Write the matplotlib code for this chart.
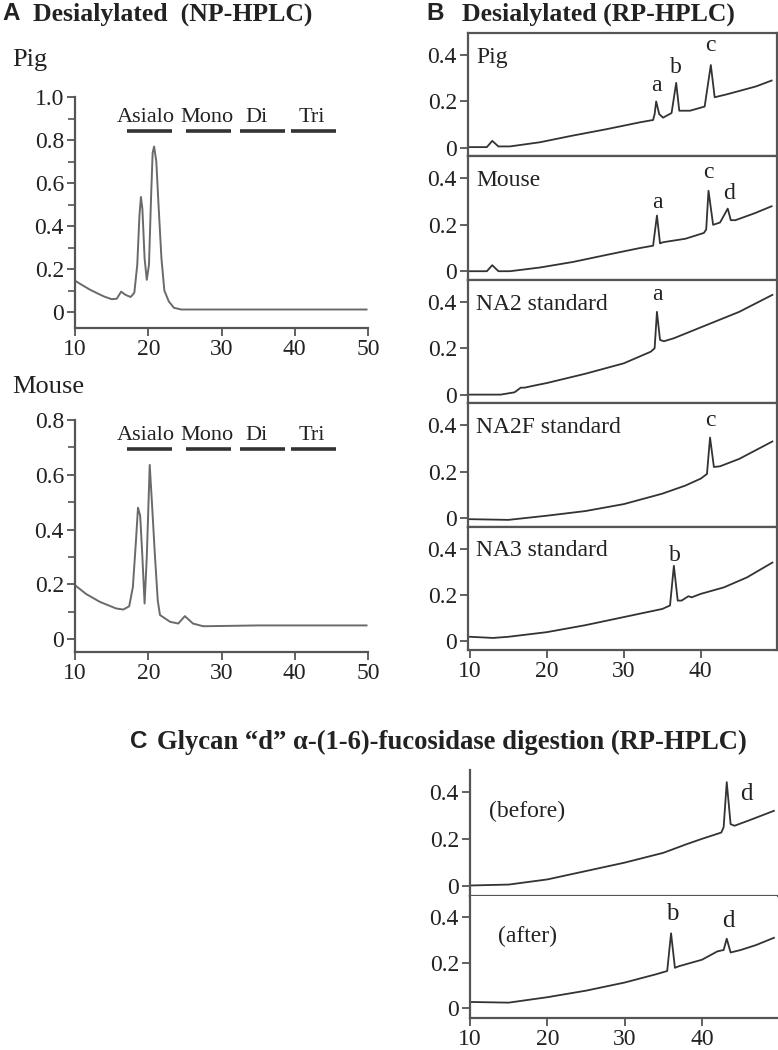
import matplotlib.pyplot as plt
from matplotlib.ticker import MultipleLocator

plt.rcParams['font.family'] = ['Liberation Serif', 'DejaVu Serif']

# ---- Panel A: NP-HPLC (time in min, absorbance) ----
pig_np_t = [10, 11, 12, 13, 14, 15, 15.7, 16.3, 16.9, 17.6, 18.1, 18.5, 18.8, 19.0,
            19.2, 19.5, 19.8, 20.1, 20.4, 20.6, 20.8, 21.1, 21.4, 21.8, 22.2, 22.8,
            23.5, 24.5, 30, 40, 49.8]
pig_np_y = [0.146, 0.125, 0.105, 0.088, 0.072, 0.06, 0.062, 0.095, 0.08, 0.07, 0.09,
            0.22, 0.45, 0.535, 0.48, 0.25, 0.15, 0.22, 0.55, 0.74, 0.77, 0.7, 0.5,
            0.25, 0.1, 0.05, 0.02, 0.012, 0.012, 0.012, 0.012]

mouse_np_t = [10, 11.5, 13.4, 15.6, 16.6, 17.4, 17.9, 18.3, 18.6, 18.9, 19.2, 19.5,
              19.8, 20.2, 20.5, 20.9, 21.3, 21.6, 23.0, 24.1, 25.0, 26.1, 27.5, 35, 49.8]
mouse_np_y = [0.197, 0.165, 0.136, 0.112, 0.108, 0.12, 0.19, 0.35, 0.48, 0.45, 0.3,
              0.13, 0.3, 0.636, 0.5, 0.31, 0.14, 0.088, 0.063, 0.057, 0.084, 0.057,
              0.047, 0.05, 0.05]

fractions = ["Asialo", "Mono", "Di", "Tri"]
fraction_start = [17.1, 25.1, 32.5, 39.5]
fraction_end = [23.2, 31.3, 38.7, 45.6]
fraction_label_x = [19.6, 28.0, 34.8, 42.3]

# ---- Panel B: RP-HPLC ----
pig_rp_t = [10, 12.2, 12.9, 13.7, 15.2, 19.1, 23.4, 27.7, 32.1, 33.8, 34.0, 34.2,
            34.6, 35.1, 36.2, 36.8, 37.2, 38.6, 40.5, 41.3, 41.8, 43.3, 45.1, 47.2, 49.2]
pig_rp_y = [0.003, 0.003, 0.03, 0.006, 0.006, 0.024, 0.053, 0.08, 0.11, 0.12, 0.145,
            0.2, 0.145, 0.13, 0.15, 0.28, 0.16, 0.16, 0.178, 0.357, 0.218, 0.23,
            0.246, 0.265, 0.29]

mouse_rp_t = [10, 12.2, 12.9, 13.7, 15.2, 19.1, 23.4, 27.7, 32.1, 33.8, 34.3, 34.7,
              35.1, 38.0, 40.4, 40.7, 41.0, 41.6, 42.5, 43.5, 43.9, 44.5, 47.0, 49.2]
mouse_rp_y = [0.0, 0.0, 0.026, 0.0, 0.0, 0.016, 0.04, 0.07, 0.1, 0.11, 0.24, 0.12,
              0.125, 0.14, 0.165, 0.18, 0.347, 0.2, 0.21, 0.27, 0.22, 0.22, 0.25, 0.28]

na2_t = [10, 14, 15.8, 16.6, 17.1, 18.5, 20, 25, 30, 33.5, 34.0, 34.3, 34.7, 35.2,
         36.5, 40, 45, 49.3]
na2_y = [0.0, 0.0, 0.01, 0.03, 0.03, 0.04, 0.05, 0.09, 0.135, 0.185, 0.2, 0.357,
         0.236, 0.23, 0.243, 0.29, 0.357, 0.43]

na2f_t = [10, 15, 20, 25, 30, 35, 38, 40, 40.8, 41.2, 41.7, 42.5, 45, 49.3]
na2f_y = [-0.005, -0.008, 0.01, 0.03, 0.06, 0.105, 0.14, 0.17, 0.19, 0.347, 0.22,
          0.223, 0.255, 0.33]

na3_t = [10, 13, 15, 20, 25, 30, 35, 36.0, 36.5, 37.0, 37.5, 38.4, 38.8, 40, 43, 46, 49.3]
na3_y = [0.02, 0.015, 0.02, 0.04, 0.07, 0.105, 0.14, 0.155, 0.326, 0.176, 0.176,
         0.195, 0.19, 0.205, 0.233, 0.276, 0.34]

# ---- Panel C: fucosidase digestion ----
before_t = [10, 15, 20, 25, 30, 35, 38, 40, 42.5, 42.8, 43.2, 43.7, 44.2, 46, 49.3]
before_y = [0.0, 0.004, 0.026, 0.062, 0.098, 0.14, 0.177, 0.2, 0.227, 0.25, 0.443,
            0.263, 0.256, 0.278, 0.32]

after_t = [10, 15, 20, 25, 30, 34, 35.5, 36.0, 36.5, 37, 40, 42, 42.8, 43.2, 43.7,
           45, 47, 49.3]
after_y = [0.026, 0.023, 0.047, 0.076, 0.112, 0.148, 0.163, 0.33, 0.177, 0.184,
           0.213, 0.25, 0.256, 0.306, 0.245, 0.256, 0.278, 0.31]

rp_names = ["Pig", "Mouse", "NA2 standard", "NA2F standard", "NA3 standard"]
rp_t = [pig_rp_t, mouse_rp_t, na2_t, na2f_t, na3_t]
rp_y = [pig_rp_y, mouse_rp_y, na2_y, na2f_y, na3_y]
rp_peaks = [[("a", 34.2, 0.268), ("b", 36.8, 0.347), ("c", 41.3, 0.44)],
            [("a", 34.3, 0.296), ("c", 41.0, 0.427), ("d", 43.7, 0.337)],
            [("a", 34.3, 0.43)],
            [("c", 41.2, 0.42)],
            [("b", 36.6, 0.371)]]

c_names = ["(before)", "(after)"]
c_t = [before_t, after_t]
c_y = [before_y, after_y]
c_peaks = [[("d", 45.8, 0.39)], [("b", 36.1, 0.414), ("d", 43.4, 0.385)]]

W, H = 778, 1050
fig = plt.figure(figsize=(W / 100, H / 100), dpi=100)


def box(l, t, r, b):
    return [l / W, 1 - b / H, (r - l) / W, (b - t) / H]


SP = "#555555"
FS = 17


def style(ax, spines):
    for s in ["left", "right", "top", "bottom"]:
        ax.spines[s].set_visible(s in spines)
        ax.spines[s].set_color(SP)
        ax.spines[s].set_linewidth(1.6)
    ax.tick_params(direction="out", length=6, width=1.3, color=SP, labelsize=FS,
                   labelcolor="#222222", pad=2)
    ax.tick_params(which="minor", direction="out", length=5, width=1.2, color=SP)


# Panel A
for pos, t, y, ylim, name, name_y, bar_y, txt_y in [
        ((75, 97, 368, 328), pig_np_t, pig_np_y, (-0.074, 1.0), "Pig", 60, 0.84, 0.905),
        ((75, 420, 368, 652), mouse_np_t, mouse_np_y, (-0.047, 0.8), "Mouse", 387, 0.693, 0.745)]:
    ax = fig.add_axes(box(*pos))
    ax.plot(t, y, color="#6a6a6a", lw=1.4)
    ax.set_xlim(10, 50)
    ax.set_ylim(*ylim)
    ax.set_xticks([10, 20, 30, 40, 50])
    ax.yaxis.set_major_locator(MultipleLocator(0.2))
    ax.yaxis.set_minor_locator(MultipleLocator(0.1))
    ax.set_yticklabels(["0" if abs(v) < 1e-9 else f"{v:.1f}" for v in ax.get_yticks()])
    style(ax, ["left", "bottom"])
    for lab, x0, x1, lx in zip(fractions, fraction_start, fraction_end, fraction_label_x):
        ax.plot([x0, x1], [bar_y, bar_y], color="#333333", lw=2.6, solid_capstyle="butt")
        ax.text(lx, txt_y, lab, ha="center", va="center", fontsize=16, color="#222222")
    fig.text(12 / W, 1 - name_y / H, name, ha="left", va="center", fontsize=19,
             color="#222222")

# Panel B
b_top, b_bot = 33, 650
ph = (b_bot - b_top) / 5
for i in range(5):
    ax = fig.add_axes(box(468, b_top + i * ph, 777, b_top + (i + 1) * ph))
    ax.plot(rp_t[i], rp_y[i], color="#333333", lw=1.3)
    ax.set_xlim(9.75, 49.9)
    ax.set_ylim(-0.037, 0.495)
    ax.set_yticks([0, 0.2, 0.4])
    ax.set_yticklabels(["0", "0.2", "0.4"])
    ax.set_xticks([10, 20, 30, 40])
    style(ax, ["left", "right", "top", "bottom"])
    if i < 4:
        ax.tick_params(axis="x", bottom=False, labelbottom=False)
    ax.text(10.8, 0.39, rp_names[i], ha="left", va="center", fontsize=FS, color="#222222")
    for lab, px, py in rp_peaks[i]:
        ax.text(px, py, lab, ha="center", va="center", fontsize=FS, color="#222222")

# Panel C
c_boxes = [(470, 770, 777, 896), (470, 896, 777, 1018)]
for i in range(2):
    ax = fig.add_axes(box(*c_boxes[i]))
    ax.plot(c_t[i], c_y[i], color="#333333", lw=1.3)
    ax.set_xlim(10, 49.7)
    ax.set_ylim(-0.045, 0.495)
    ax.set_yticks([0, 0.2, 0.4])
    ax.set_yticklabels(["0", "0.2", "0.4"])
    ax.set_xticks([10, 20, 30, 40])
    style(ax, ["left", "bottom"])
    if i == 0:
        ax.tick_params(axis="x", bottom=False, labelbottom=False)
    ax.text(17.4, 0.318, c_names[i], ha="center", va="center", fontsize=FS, color="#222222")
    for lab, px, py in c_peaks[i]:
        ax.text(px, py, lab, ha="center", va="center", fontsize=18, color="#222222")

# Titles
title_kw = dict(fontweight="bold", color="#222222", va="center")
letter_kw = dict(fontsize=17.5, fontweight="bold", color="#222222", va="center",
                 family="Liberation Sans")
fig.text(2 / W, 1 - 14 / H, "A", ha="left", **letter_kw)
fig.text(33 / W, 1 - 14 / H, "Desialylated  (NP-HPLC)", ha="left", fontsize=18.5, **title_kw)
fig.text(426 / W, 1 - 14 / H, "B", ha="left", **letter_kw)
fig.text(462 / W, 1 - 14 / H, "Desialylated (RP-HPLC)", ha="left", fontsize=18.5, **title_kw)
fig.text(130 / W, 1 - 742 / H, "C", ha="left", **letter_kw)
fig.text(157 / W, 1 - 742 / H, "Glycan \u201cd\u201d \u03b1-(1-6)-fucosidase digestion (RP-HPLC)",
         ha="left", fontsize=19.2, **title_kw)

fig.savefig("out.png", dpi=100, facecolor="white")
